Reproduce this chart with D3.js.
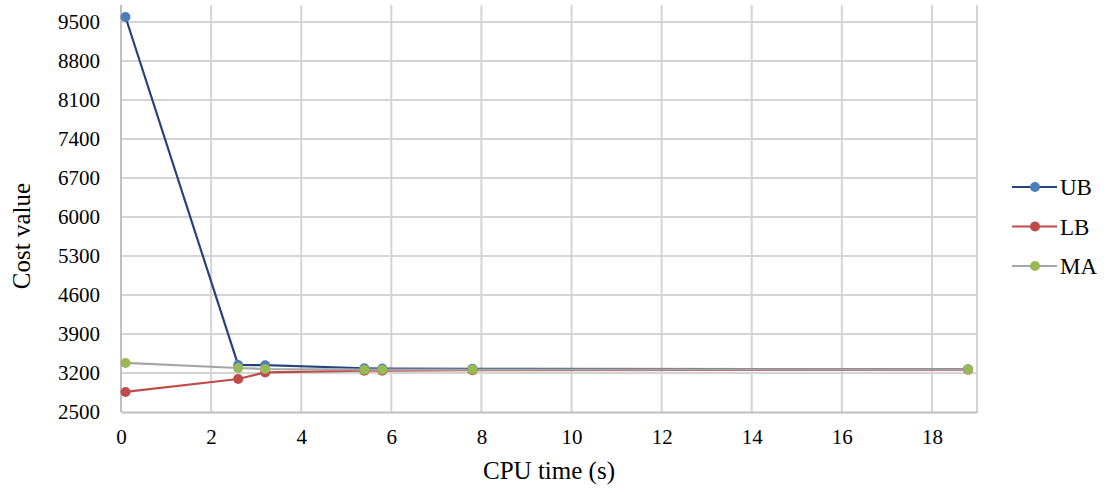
<!DOCTYPE html>
<html><head><meta charset="utf-8">
<script src="https://cdn.jsdelivr.net/npm/d3@7"></script>
<style>body{margin:0;background:#fff}svg{display:block}</style>
</head><body><svg id="c" width="1107" height="493"></svg>
<script>
const times = [0.1, 2.6, 3.2, 5.4, 5.8, 7.8, 18.8];
const ubValues = [9590, 3345, 3340, 3285, 3280, 3275, 3268];
const lbValues = [2860, 3092, 3210, 3240, 3242, 3250, 3258];
const maValues = [3380, 3290, 3272, 3260, 3260, 3262, 3265];
const xTicks = [0, 2, 4, 6, 8, 10, 12, 14, 16, 18];
const yTicks = [2500, 3200, 3900, 4600, 5300, 6000, 6700, 7400, 8100, 8800, 9500];
const seriesNames = ["UB", "LB", "MA"];

const FONT = "'Liberation Serif', 'Times New Roman', serif";

const series = [
  {name: seriesNames[0], values: ubValues, line: "#264478", marker: "#4a7ebb"},
  {name: seriesNames[1], values: lbValues, line: "#be4b48", marker: "#be4b48"},
  {name: seriesNames[2], values: maValues, line: "#a5a5a5", marker: "#98b954"}
];

const svg = d3.select("#c");
const L = 121, R = 977, T = 5, B = 412;
const x = d3.scaleLinear().domain([0, 19]).range([L, R]);
const y = d3.scaleLinear().domain([2500, 9500]).range([B, 22]);

svg.append("g").selectAll("line").data(xTicks.slice(1).concat([19])).join("line")
  .attr("x1", d => x(d)).attr("x2", d => x(d)).attr("y1", T).attr("y2", B)
  .attr("stroke", "#d4d4d4").attr("stroke-width", 2);
svg.append("g").selectAll("line").data(yTicks.slice(1)).join("line")
  .attr("x1", L).attr("x2", R).attr("y1", d => y(d)).attr("y2", d => y(d))
  .attr("stroke", "#d4d4d4").attr("stroke-width", 2);

const xAxis = d3.axisBottom(x).tickValues(xTicks).tickSize(0).tickPadding(17).tickFormat(d3.format("d"));
const gx = svg.append("g").attr("transform", `translate(0,${B})`).call(xAxis);
gx.attr("font-family", null).attr("font-size", null);
gx.select(".domain").attr("stroke", "#bfbfbf").attr("stroke-width", 2);
gx.selectAll("text").style("font-size", "21px").style("font-family", FONT).attr("fill", "#000");

const yAxis = d3.axisLeft(y).tickValues(yTicks).tickSize(0).tickPadding(21).tickFormat(d3.format("d"));
const gy = svg.append("g").attr("transform", `translate(${L},0)`).call(yAxis);
gy.attr("font-family", null).attr("font-size", null);
gy.select(".domain").remove();
svg.append("line").attr("x1", L).attr("x2", L).attr("y1", T).attr("y2", B)
  .attr("stroke", "#bfbfbf").attr("stroke-width", 2);
gy.selectAll("text").style("font-size", "21px").style("font-family", FONT).attr("fill", "#000");

const lineGen = d3.line().x((d, i) => x(times[i])).y(d => y(d));
series.forEach(s => {
  svg.append("path").datum(s.values).attr("d", lineGen)
    .attr("fill", "none").attr("stroke", s.line).attr("stroke-width", 2.2);
});
series.forEach(s => {
  svg.append("g").selectAll("circle").data(s.values).join("circle")
    .attr("cx", (d, i) => x(times[i])).attr("cy", d => y(d)).attr("r", 5)
    .attr("fill", s.marker);
});

svg.append("text").attr("x", (L + R) / 2).attr("y", 479).attr("text-anchor", "middle")
  .style("font-family", FONT).style("font-size", "25px").text("CPU time (s)");
svg.append("text").attr("transform", "translate(30,236) rotate(-90)").attr("text-anchor", "middle")
  .style("font-family", FONT).style("font-size", "25px").text("Cost value");

const lg = svg.append("g");
series.forEach((s, i) => {
  const yy = 187 + i * 39.5;
  lg.append("line").attr("x1", 1012).attr("x2", 1057).attr("y1", yy).attr("y2", yy)
    .attr("stroke", s.line).attr("stroke-width", 2.2);
  lg.append("circle").attr("cx", 1035).attr("cy", yy).attr("r", 5).attr("fill", s.marker);
  lg.append("text").attr("x", 1060).attr("y", yy + 8)
    .style("font-family", FONT).style("font-size", "23px").text(s.name);
});
</script></body></html>
